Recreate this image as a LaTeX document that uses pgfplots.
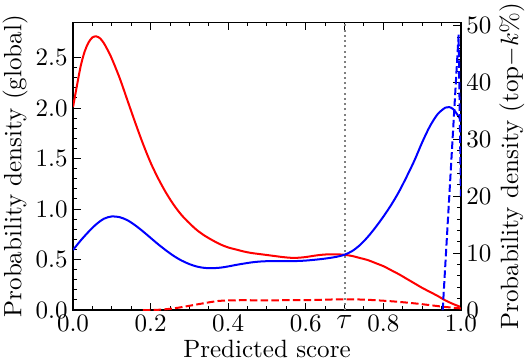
\documentclass[border=0pt]{standalone}
\usepackage{pgfplots}
\pgfplotsset{compat=1.18}
\begin{document}
\begin{tikzpicture}
\pgfplotsset{
  every axis/.append style={
    scale only axis, width=155pt, height=115pt,
    xmin=0, xmax=1,
    tick align=inside,
    major tick length=3pt, minor tick length=1.6pt,
    every tick/.style={black, line width=0.4pt},
    axis line style={line width=0.5pt},
    xticklabel style={inner sep=2pt},
    yticklabel style={inner sep=2pt},
    xlabel style={inner sep=1pt},
    ylabel style={inner sep=1pt},
  }
}
\begin{axis}[
  ymin=0, ymax=2.85,
  xtick={0,0.2,0.4,0.6,0.8,1.0},
  minor x tick num=3,
  ytick={0,0.5,1,1.5,2,2.5},
  minor y tick num=4,
  extra x ticks={0.7},
  extra x tick labels={{\large$\tau$}},
  xtick pos=both, ytick pos=left,
  xticklabel style={/pgf/number format/fixed, /pgf/number format/fixed zerofill, /pgf/number format/precision=1},
  yticklabel style={/pgf/number format/fixed, /pgf/number format/fixed zerofill, /pgf/number format/precision=1},
  xlabel={Predicted score},
  ylabel={Probability density (global)},
]
\addplot[gray, line width=0.8pt, dash pattern=on 0.8pt off 1.3pt] coordinates {(0.7,0) (0.7,2.85)};
\addplot[red, line width=0.8pt, smooth] coordinates {
(0,2.01)(0.01,2.22)(0.02,2.42)(0.03,2.56)(0.04,2.65)(0.05,2.70)(0.06,2.71)(0.07,2.69)(0.08,2.64)(0.09,2.57)(0.10,2.49)(0.12,2.30)(0.14,2.08)(0.16,1.86)(0.18,1.65)(0.20,1.46)(0.22,1.30)(0.24,1.16)(0.26,1.04)(0.28,0.94)(0.30,0.86)(0.32,0.79)(0.34,0.735)(0.36,0.69)(0.38,0.65)(0.40,0.62)(0.42,0.60)(0.44,0.58)(0.46,0.565)(0.48,0.555)(0.50,0.545)(0.52,0.535)(0.54,0.525)(0.56,0.518)(0.58,0.518)(0.60,0.525)(0.62,0.537)(0.64,0.547)(0.66,0.552)(0.68,0.552)(0.70,0.547)(0.72,0.535)(0.74,0.515)(0.76,0.495)(0.78,0.465)(0.80,0.435)(0.82,0.395)(0.84,0.355)(0.86,0.31)(0.88,0.265)(0.90,0.22)(0.92,0.18)(0.94,0.14)(0.96,0.095)(0.98,0.06)(1.00,0.03)};
\addplot[blue, line width=0.8pt, smooth] coordinates {
(0,0.595)(0.02,0.69)(0.04,0.775)(0.06,0.85)(0.08,0.905)(0.10,0.927)(0.12,0.92)(0.14,0.89)(0.16,0.84)(0.18,0.78)(0.20,0.715)(0.22,0.65)(0.24,0.59)(0.26,0.535)(0.28,0.49)(0.30,0.455)(0.32,0.43)(0.34,0.417)(0.36,0.415)(0.38,0.42)(0.40,0.432)(0.42,0.447)(0.44,0.46)(0.46,0.472)(0.48,0.48)(0.50,0.484)(0.52,0.485)(0.54,0.484)(0.56,0.484)(0.58,0.486)(0.60,0.49)(0.62,0.497)(0.64,0.505)(0.66,0.515)(0.68,0.528)(0.70,0.548)(0.72,0.585)(0.74,0.645)(0.76,0.725)(0.78,0.82)(0.80,0.925)(0.82,1.04)(0.84,1.17)(0.86,1.32)(0.88,1.48)(0.90,1.66)(0.92,1.82)(0.94,1.94)(0.96,2.005)(0.97,2.01)(0.98,1.99)(0.99,1.94)(1.00,1.88)};
\end{axis}
\begin{axis}[
  axis x line=none,
  axis y line*=right,
  ymin=0, ymax=50.6,
  ytick={0,10,20,30,40,50},
  minor y tick num=4,
  ylabel={Probability density (top$-k\%$)},
]
\addplot[red, line width=0.8pt, dash pattern=on 3pt off 1.3pt, smooth] coordinates {
(0.18,0)(0.22,0.05)(0.26,0.3)(0.3,0.75)(0.333,1.15)(0.375,1.6)(0.42,1.72)(0.5,1.72)(0.6,1.75)(0.7,1.9)(0.76,1.8)(0.82,1.55)(0.87,1.25)(0.91,0.95)(0.956,0.57)(1.0,0.29)};
\addplot[blue, line width=0.8pt, dash pattern=on 3pt off 1.3pt] coordinates {
(0.953,0)(0.994,48.4)(1.0,20)};
\end{axis}
\end{tikzpicture}
\end{document}
